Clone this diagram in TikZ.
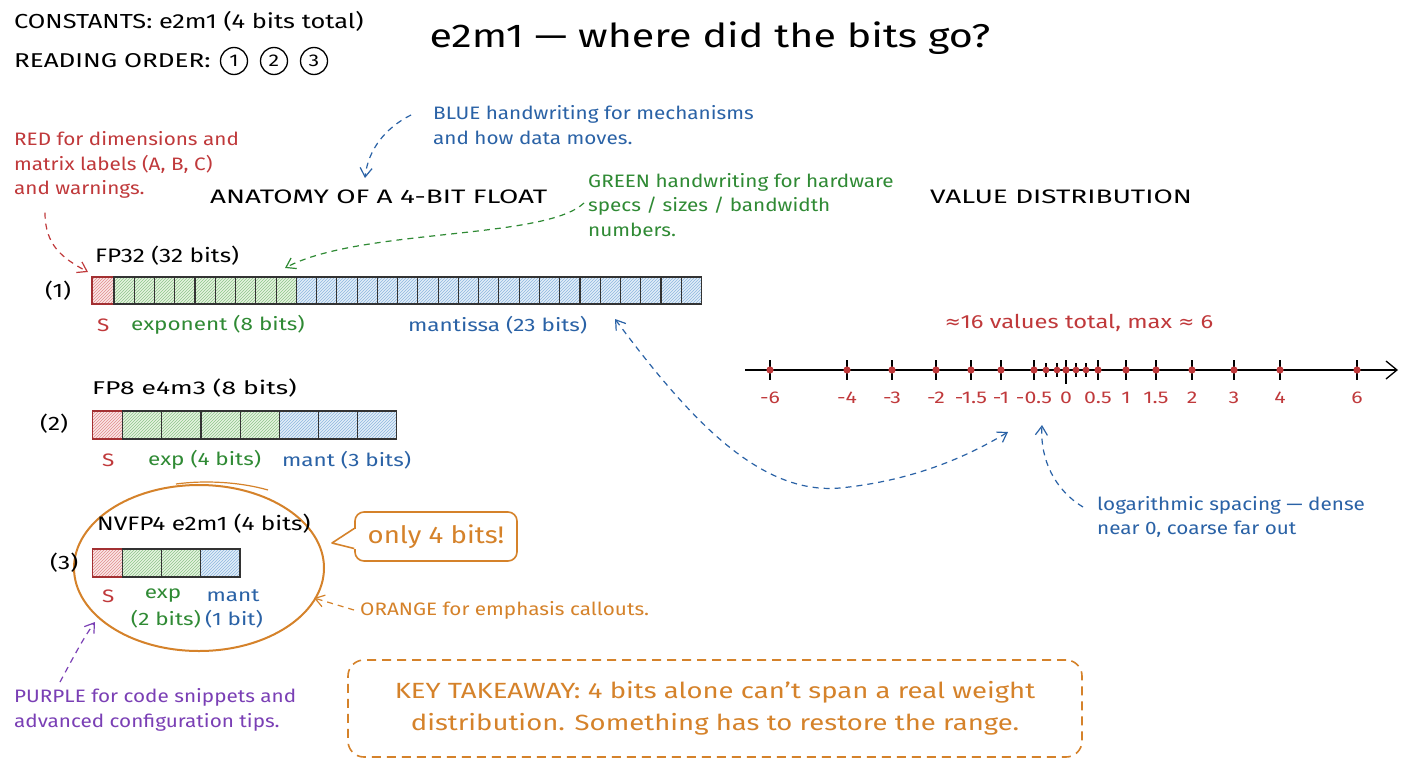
\documentclass[tikz,border=0pt]{standalone}
\usepackage{fontspec}
\setmainfont{Fira Sans}[FakeStretch=1.25]
\newfontfamily\notefont{Fira Sans}[FakeStretch=1.15]
\newfontfamily\midfont{Fira Sans}[FakeStretch=1.3]
\newfontfamily\capsfont{Fira Sans}[FakeStretch=1.43]
\newfontfamily\symfont{DejaVu Sans}
\usetikzlibrary{patterns,arrows.meta,shapes.geometric,calc}
\definecolor{cred}{HTML}{C0393B}
\definecolor{cgreen}{HTML}{2F8A34}
\definecolor{cblue}{HTML}{2A62A6}
\definecolor{corange}{HTML}{D5822A}
\definecolor{cpurple}{HTML}{7A3FB5}
\definecolor{lred}{HTML}{FBE6E6}
\definecolor{lgreen}{HTML}{E6F3E0}
\definecolor{lblue}{HTML}{E2EEF9}
\definecolor{hred}{HTML}{E08C8C}
\definecolor{hgreen}{HTML}{8CC48A}
\definecolor{hblue}{HTML}{8DB6DE}
\tikzset{
  txt/.style={font=\fontsize{19.5}{23}\selectfont, anchor=west, inner sep=0pt},
  caps/.style={font=\capsfont\fontsize{19.5}{23}\selectfont, anchor=west, inner sep=0pt},
  note/.style={anchor=west, inner sep=0pt, align=left, font=\notefont\fontsize{18}{24.5}\selectfont},
  lbl/.style={font=\fontsize{18}{22}\selectfont, inner sep=0pt},
  numlbl/.style={font=\fontsize{17}{20}\selectfont, text=cred, inner sep=0pt},
  ordc/.style={draw, circle, line width=1.3pt, minimum size=27pt, inner sep=0pt, font=\fontsize{17}{20}\selectfont},
  cellS/.style={draw=cred!85!black, line width=1.1pt, preaction={fill=lred}, pattern=north east lines, pattern color=hred},
  cellG/.style={draw=black!80, line width=1.1pt, preaction={fill=lgreen}, pattern=north east lines, pattern color=hgreen},
  cellB/.style={draw=black!80, line width=1.1pt, preaction={fill=lblue}, pattern=north east lines, pattern color=hblue},
  darr/.style={dashed, dash pattern=on 6pt off 5pt, line width=1.2pt, -{Straight Barb[length=9pt,width=12pt]}},
}
\begin{document}
\begin{tikzpicture}[x=1pt,y=-1pt]
\useasboundingbox[fill=white] (0,0) rectangle (1408,768);

% header
\node[txt, font=\fontsize{20.3}{23}\selectfont] (const) at (14,21) {CONSTANTS: e2m1 (4 bits total)};
\node[txt, font=\midfont\fontsize{20}{23}\selectfont] (order) at (14,61) {READING ORDER:};
\node[ordc] (o1) at (234,61) {1};
\node[ordc] (o2) at (274,61) {2};
\node[ordc] (o3) at (314,61) {3};
\node[font=\fontsize{33}{40}\selectfont, inner sep=0pt] (title) at (710,38) {e2m1 — where did the bits go?};

% colour notes
\node[note, text=cblue] (bluenote) at (433,125) {BLUE handwriting for mechanisms\\and how data moves.};
\node[note, text=cred] (rednote) at (14,165) {RED for dimensions and\\matrix labels (A, B, C)\\and warnings.};
\node[note, text=cgreen] (greennote) at (588,205) {GREEN handwriting for hardware\\specs / sizes / bandwidth\\numbers.};
\node[caps] (anat) at (210,197) {ANATOMY OF A 4-BIT FLOAT};
\node[caps] (valdist) at (930,197) {VALUE DISTRIBUTION};

% FP32
\node[txt] (fp32) at (95,256) {FP32 (32 bits)};
\node[txt] (n1) at (45,291) {(1)};
\draw[cellS] (92,277) rectangle (114,304);
\foreach \i in {0,...,8} \draw[cellG] ({114+\i*20.26},277) rectangle ++(20.26,27);
\foreach \i in {9,...,28} \draw[cellB] ({114+\i*20.26},277) rectangle ++(20.26,27);
\node[lbl, anchor=west, text=cred] (s1) at (97,325) {S};
\node[lbl, anchor=west, text=cgreen] (e1) at (131,325) {exponent (8 bits)};
\node[lbl, anchor=west, text=cblue] (m1) at (408,325) {mantissa (23 bits)};

% FP8
\node[txt, font=\capsfont\fontsize{18.5}{23}\selectfont] (fp8) at (92,388) {FP8 e4m3 (8 bits)};
\node[txt] (n2) at (40,424) {(2)};
\draw[cellS] (92.3,411) rectangle (122.7,439);
\foreach \i in {0,...,3} \draw[cellG] ({122.7+\i*39.14},411) rectangle ++(39.14,28);
\foreach \i in {4,...,6} \draw[cellB] ({122.7+\i*39.14},411) rectangle ++(39.14,28);
\node[lbl, anchor=west, text=cred] (s2) at (102,460) {S};
\node[lbl, anchor=west, text=cgreen] (e2) at (148,460) {exp (4 bits)};
\node[lbl, anchor=west, text=cblue] (m2) at (282,460) {mant (3 bits)};

% NVFP4
\node[draw=corange, line width=2pt, ellipse, minimum width=250pt, minimum height=166pt, inner sep=0pt] (nvbox) at (199,568) {};
\draw[corange, line width=1.2pt] (176,484) .. controls (205,480) and (240,482) .. (268,490);
\node[txt] (fp4) at (97,524) {NVFP4 e2m1 (4 bits)};
\node[txt] (n3) at (50,563) {(3)};
\draw[cellS] (92.3,549) rectangle (122.7,577);
\draw[cellG] (122.7,549) rectangle (161.7,577);
\draw[cellG] (161.7,549) rectangle (200.7,577);
\draw[cellB] (200.7,549) rectangle (240,577);
\node[lbl, anchor=west, text=cred] (s3) at (102,596) {S};
\node[lbl, text=cgreen] (e3) at (163,596) {exp};
\node[lbl, text=cgreen] (e3b) at (166,619) {(2 bits)};
\node[lbl, text=cblue] (m3) at (233,596) {mant};
\node[lbl, text=cblue] (m3b) at (234,619) {(1 bit)};

% callout
\node[draw=corange, line width=1.6pt, rounded corners=9pt, minimum width=162pt, minimum height=49pt, text=corange, font=\notefont\fontsize{24}{28}\selectfont, inner sep=0pt] (only) at (436,536.5) {only 4 bits!};
\coordinate (ptip) at (332,543);
\fill[white] ($(only.west)+(-1,-8)$) rectangle ($(only.west)+(2,12)$);
\draw[corange, line width=1.6pt, line join=round] ($(only.west)+(0,-8)$) -- (ptip) -- ($(only.west)+(0,12)$);

\node[note, text=corange] (orangenote) at (360,610) {ORANGE for emphasis callouts.};
\coordinate (otip) at (314,598);
\draw[darr, corange] (orangenote.west) ++(-6,0) -- (otip);

\node[note, text=cpurple] (purplenote) at (14,710) {PURPLE for code snippets and\\advanced configuration tips.};
\coordinate (ptip2) at (95,622);
\draw[darr, cpurple] (60,682) .. controls (72,660) and (82,640) .. (ptip2);

% key takeaway
\node[draw=corange, line width=1.6pt, dash pattern=on 9pt off 6pt, rounded corners=16pt, minimum width=734pt, minimum height=97pt, text=corange, align=center, font=\fontsize{22}{32}\selectfont, inner sep=0pt] (key) at (715,708.5) {KEY TAKEAWAY: 4 bits alone can't span a real weight\\distribution. Something has to restore the range.};

% number line
\node[numlbl, font=\fontsize{19}{22}\selectfont] (nltitle) at (1079,323) {{\symfont ≈}16 values total, max {\symfont ≈} 6};
\coordinate (nlstart) at (745,370);
\coordinate (nlend) at (1398,370);
\draw[line width=1.3pt, -{Straight Barb[length=11pt,width=18pt]}] (nlstart) -- (nlend);
\foreach \x/\l in {770/-6,847/-4,892/-3,936/-2,971/-1.5,1001/-1,1034/-0.5,1098/0.5,1126/1,1156/1.5,1192/2,1234/3,1280/4,1357/6}{
  \draw[line width=1.2pt] (\x,360) -- (\x,380);
  \fill[cred] (\x,370) circle (3.6pt);
  \node[numlbl] at (\x,398) {\l};
}
\foreach \x in {1046,1057,1076,1086}{
  \draw[line width=1.1pt] (\x,363) -- (\x,377);
  \fill[cred] (\x,370) circle (3.4pt);
}
\draw[line width=1.8pt] (1066,360) -- (1066,384);
\fill[cred] (1066,370) circle (3.6pt);
\node[numlbl] (zero) at (1066,398) {0};

\node[note, text=cblue] (lognote) at (1097,517) {logarithmic spacing — dense\\near 0, coarse far out};

% dashed connectors
\coordinate (bluetip) at (365,178);
\draw[darr, cblue] (bluenote.west) ++(-22,-10) .. controls (385,128) and (368,150) .. (bluetip);
\coordinate (redtip) at (88,272);
\draw[darr, cred] (rednote.south west) ++(31,14) .. controls (45,245) and (62,258) .. (redtip);
\coordinate (greentip) at (285,268);
\draw[darr, cgreen] (greennote.west) ++(-4,-2) .. controls (545,240) and (360,228) .. (greentip);
\coordinate (mtip) at (615,319);
\coordinate (ntip) at (1008,432);
\draw[dashed, dash pattern=on 6pt off 5pt, line width=1.2pt, cblue, {Straight Barb[length=9pt,width=12pt]}-{Straight Barb[length=9pt,width=12pt]}] (mtip) .. controls (690,420) and (760,495) .. (840,488) .. controls (920,480) and (975,452) .. (ntip);
\coordinate (ztip) at (1042,425);
\draw[darr, cblue] (lognote.west) ++(-14,-10) .. controls (1055,490) and (1040,460) .. (ztip);
\end{tikzpicture}
\end{document}
